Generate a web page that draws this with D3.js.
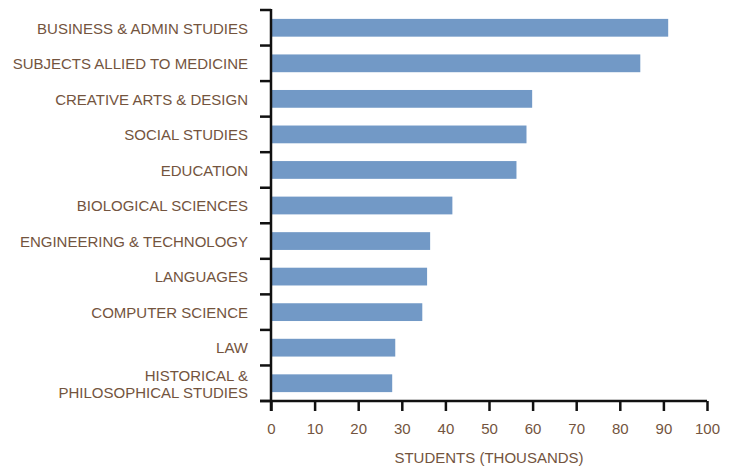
<!DOCTYPE html>
<html lang="en">
<head>
    <meta charset="UTF-8">
    <title>Students by subject</title>
    <script src="https://cdn.jsdelivr.net/npm/d3@7"></script>
    <style>
        body { margin: 0; background: white; }
        svg text {
            font-family: "Liberation Sans", Arial, sans-serif;
            fill: #73543e;
        }
    </style>
</head>
<body>
    <div id="chart"></div>
    <script>
        const subjects = [
            ["BUSINESS & ADMIN STUDIES"],
            ["SUBJECTS ALLIED TO MEDICINE"],
            ["CREATIVE ARTS & DESIGN"],
            ["SOCIAL STUDIES"],
            ["EDUCATION"],
            ["BIOLOGICAL SCIENCES"],
            ["ENGINEERING & TECHNOLOGY"],
            ["LANGUAGES"],
            ["COMPUTER SCIENCE"],
            ["LAW"],
            ["HISTORICAL &", "PHILOSOPHICAL STUDIES"]
        ];
        const students = [91.1, 84.7, 59.9, 58.6, 56.3, 41.6, 36.5, 35.8, 34.7, 28.5, 27.8];
        const xTicks = [0, 10, 20, 30, 40, 50, 60, 70, 80, 90, 100];
        const xTitle = "STUDENTS (THOUSANDS)";

        (() => {
            const width = 737;
            const height = 468;
            const margin = { top: 10, right: 30, bottom: 67, left: 271 };

            const svg = d3.select("#chart").append("svg")
                .attr("width", width)
                .attr("height", height);

            const x = d3.scaleLinear()
                .domain([0, 100])
                .range([margin.left, width - margin.right]);

            const y = d3.scaleBand()
                .domain(d3.range(subjects.length))
                .range([margin.top, height - margin.bottom])
                .paddingInner(0.5)
                .paddingOuter(0.25);

            // bars
            svg.append("g")
                .attr("fill", "#7299c6")
                .selectAll("rect")
                .data(students)
                .join("rect")
                .attr("x", x(0))
                .attr("y", (d, i) => y(i))
                .attr("width", d => x(d) - x(0))
                .attr("height", y.bandwidth());

            // left axis: line plus ticks at band boundaries
            const yBottom = height - margin.bottom;
            const bounds = d3.range(subjects.length + 1).map(i => margin.top + i * y.step());
            const axisL = svg.append("g").attr("stroke", "#111").attr("stroke-width", 2.5);
            axisL.append("line")
                .attr("x1", x(0)).attr("x2", x(0))
                .attr("y1", margin.top - 1).attr("y2", yBottom + 10);
            axisL.selectAll(".tk")
                .data(bounds)
                .join("line")
                .attr("x1", x(0) - 11).attr("x2", x(0))
                .attr("y1", d => d).attr("y2", d => d);

            // labels
            svg.append("g")
                .selectAll("text")
                .data(subjects)
                .join("text")
                .attr("text-anchor", "end")
                .attr("font-size", 15)
                .attr("x", x(0) - 23)
                .attr("y", (d, i) => y(i) + y.bandwidth() / 2 - (d.length - 1) * 8 + 0.5)
                .each(function (d) {
                    d3.select(this).selectAll("tspan")
                        .data(d)
                        .join("tspan")
                        .attr("x", x(0) - 23)
                        .attr("dy", (t, j) => j === 0 ? "0.35em" : 17)
                        .text(t => t);
                });

            // bottom axis
            const gx = svg.append("g")
                .attr("transform", `translate(0,${yBottom})`)
                .call(d3.axisBottom(x).tickValues(xTicks).tickSize(10).tickPadding(12));
            gx.select(".domain")
                .attr("d", `M${x(0) - 11},0H${x(100)}`)
                .attr("stroke", "#111").attr("stroke-width", 2.5);
            gx.selectAll(".tick line").attr("stroke", "#111").attr("stroke-width", 2.5);
            gx.selectAll(".tick text")
                .attr("font-size", 15)
                .attr("font-family", "Liberation Sans, Arial, sans-serif")
                .attr("fill", "#73543e");

            svg.append("text")
                .attr("x", (x(0) + x(100)) / 2)
                .attr("y", yBottom + 62)
                .attr("text-anchor", "middle")
                .attr("font-size", 15)
                .text(xTitle);
        })()
    </script>
</body>
</html>
